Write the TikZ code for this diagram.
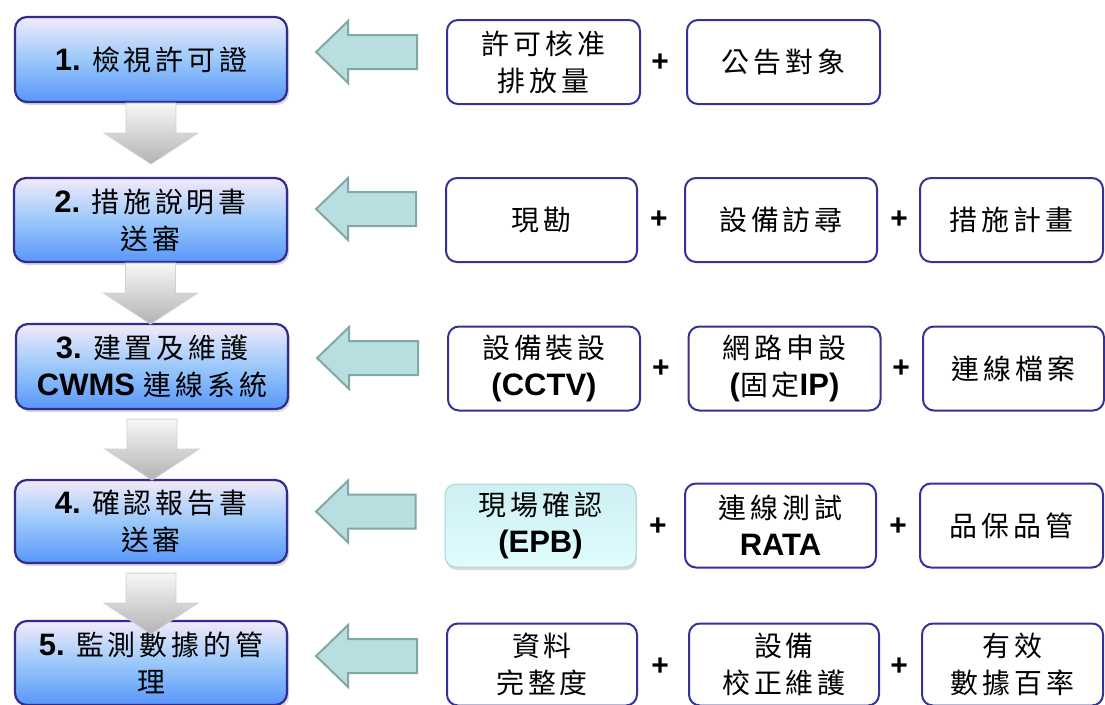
\documentclass[tikz,border=0pt]{standalone}
\usepackage{fontspec}
\setmainfont{Liberation Sans}
\newfontfamily\cjk[Scale=0.9,LetterSpace=14]{Noto Sans CJK TC}
\newcommand\zh[1]{{\mdseries\cjk #1}}
\usetikzlibrary{shadows,calc}
\definecolor{navyL}{RGB}{48,45,140}
\definecolor{navyR}{RGB}{52,50,150}
\definecolor{boxtop}{RGB}{242,234,250}
\definecolor{boxmid}{RGB}{155,200,250}
\definecolor{boxbot}{RGB}{88,150,250}
\definecolor{arrfill}{RGB}{184,222,224}
\definecolor{arrdraw}{RGB}{128,168,166}
\definecolor{cyantop}{RGB}{205,240,242}
\definecolor{cyanbot}{RGB}{224,252,255}
\definecolor{cyandraw}{RGB}{175,212,214}
\newcommand\dnarr[3]{%
  \path[dnarrow] let \p1=(#1.south) in
   (\x1-25pt,\y1-#3) -- (\x1+25pt,\y1-#3) -- (\x1+25pt,\y1-#3-30pt) --
   (\x1+47pt,\y1-#3-30pt) -- (\x1,\y1-#3-61pt) -- (\x1-47pt,\y1-#3-30pt) --
   (\x1-25pt,\y1-#3-30pt) -- cycle;}
\newcommand\lfarr[3]{%
  \path[lfarrow] let \p1=(#1.east), \p2=(#2.west), \p3=(#1.center) in
   (\x1+28pt,\y3+#3) -- (\x1+60pt,\y3+#3+31pt) -- (\x1+60pt,\y3+#3+17pt) --
   (\x2-29pt,\y3+#3+17pt) -- (\x2-29pt,\y3+#3-17pt) -- (\x1+60pt,\y3+#3-17pt) --
   (\x1+60pt,\y3+#3-31pt) -- cycle;}
\begin{document}
\begin{tikzpicture}[x=1pt,y=-1pt,
  every node/.style={font=\fontsize{31}{37}\selectfont\bfseries, inner sep=0pt, align=center},
  leftbox/.style={draw=navyL, line width=2.2pt, rounded corners=12pt,
    top color=boxtop, bottom color=boxbot, middle color=boxmid,
    minimum width=272pt, minimum height=85pt,
    drop shadow={shadow xshift=2pt, shadow yshift=-3pt, opacity=0.3}},
  rbox/.style={draw=navyR, line width=2pt, rounded corners=11pt, fill=white,
    minimum height=84pt},
  cbox/.style={draw=cyandraw, line width=1pt, rounded corners=11pt,
    top color=cyantop, bottom color=cyanbot, minimum height=83pt,
    drop shadow={shadow xshift=1pt, shadow yshift=-3pt, opacity=0.3}},
  plus/.style={font=\fontsize{30}{30}\selectfont\bfseries},
  dnarrow/.style={draw=black!18, line width=0.8pt, top color=black!3, bottom color=black!30},
  lfarrow/.style={draw=arrdraw, line width=2pt, fill=arrfill}]
\useasboundingbox (0,0) rectangle (1105,704);
\clip (0,0) rectangle (1105,704);
% left column
\node[leftbox] (b1) at (151,59.5) {1. \zh{檢視許可證}};
\node[leftbox, minimum width=273pt, minimum height=84pt] (b2) at (150.5,220) {2. \zh{措施說明書}\\\zh{送審}};
\node[leftbox] (b3) at (152,366.5) {3. \zh{建置及維護}\\CWMS \zh{連線系統}};
\node[leftbox, minimum height=83pt] (b4) at (151,521.5) {4. \zh{確認報告書}\\\zh{送審}};
% down arrows
\dnarr{b1}{b2}{0pt}
\dnarr{b2}{b3}{0pt}
\dnarr{b3}{b4}{9pt}
\node[leftbox, minimum height=84pt] (b5) at (151,663) {5. \zh{監測數據的管}\\\zh{理}};
\dnarr{b4}{b5}{9pt}
% right boxes
\node[rbox, minimum width=193pt] (r1a) at (543.5,62) {\zh{許可核准}\\\zh{排放量}};
\node[plus] (p1a) at (660,63) {+};
\node[rbox, minimum width=193pt] (r1b) at (783.5,62) {\zh{公告對象}};

\node[rbox, minimum width=191pt] (r2a) at (541.5,220) {\zh{現勘}};
\node[plus] (p2a) at (659,220) {+};
\node[rbox, minimum width=192pt] (r2b) at (781,220) {\zh{設備訪尋}};
\node[plus] (p2b) at (899,220) {+};
\node[rbox, minimum width=183pt] (r2c) at (1011.5,220) {\zh{措施計畫}};

\node[rbox, minimum width=192pt] (r3a) at (544,368.5) {\zh{設備裝設}\\(CCTV)};
\node[plus] (p3a) at (661,369) {+};
\node[rbox, minimum width=192pt] (r3b) at (784.5,368.5) {\zh{網路申設}\\(\zh{固定}IP)};
\node[plus] (p3b) at (901,369) {+};
\node[rbox, minimum width=181pt] (r3c) at (1013.5,368.5) {\zh{連線檔案}};

\node[cbox, minimum width=191pt] (r4a) at (540.5,525.5) {\zh{現場確認}\\(EPB)};
\node[plus] (p4a) at (658,527) {+};
\node[rbox, minimum width=191pt] (r4b) at (780.5,525.5) {\zh{連線測試}\\RATA};
\node[plus] (p4b) at (898,527) {+};
\node[rbox, minimum width=183pt] (r4c) at (1011.5,525.5) {\zh{品保品管}};

\node[rbox, minimum width=190pt, minimum height=82pt] (r5a) at (542,664.5) {\zh{資料}\\\zh{完整度}};
\node[plus] (p5a) at (660,667) {+};
\node[rbox, minimum width=190pt, minimum height=82pt] (r5b) at (784,664.5) {\zh{設備}\\\zh{校正維護}};
\node[plus] (p5b) at (899,667) {+};
\node[rbox, minimum width=181pt, minimum height=82pt] (r5c) at (1012.5,664.5) {\zh{有效}\\\zh{數據百率}};
% left arrows
\lfarr{b1}{r1a}{7.5pt}
\lfarr{b2}{r2a}{11pt}
\lfarr{b3}{r3a}{8.5pt}
\lfarr{b4}{r4a}{10pt}
\lfarr{b5}{r5a}{7pt}
\end{tikzpicture}
\end{document}
